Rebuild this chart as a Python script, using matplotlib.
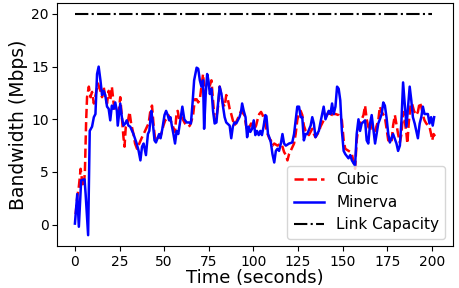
import matplotlib
matplotlib.use("Agg")
import matplotlib.pyplot as plt

# -------------------------------------------------------------------------------------------------
# Data (time in seconds, bandwidth in Mbps)
# -------------------------------------------------------------------------------------------------
t_minerva = [0.0, 1.3, 2.2, 3.5, 5.4, 6.0, 7.4, 8.3, 9.6, 10.6, 11.5, 12.4, 13.3, 14.3, 15.2, 16.1,
             17.0, 18.0, 18.9, 19.8, 20.7, 21.7, 22.6, 23.5, 24.0, 25.4, 26.3, 27.2, 28.2, 29.0, 30.0,
             31.0, 32.8, 34.6, 35.7, 36.7, 37.6, 38.5, 39.8, 40.9, 41.7, 42.8, 43.5, 44.6, 45.4, 46.5,
             47.2, 48.0, 49.0, 50.2, 51.1, 52.0, 52.8, 53.5, 54.3, 55.2, 56.1, 57.0, 57.9, 58.9, 60.2,
             61.3, 62.6, 63.9, 65.0, 65.9, 66.8, 68.2, 69.1, 70.0, 70.9, 71.8, 72.4, 73.3, 74.1, 74.8,
             75.6, 76.5, 77.4, 78.3, 79.3, 80.2, 81.1, 82.1, 83.0, 83.9, 84.8, 86.7, 87.6, 88.5, 89.4,
             90.4, 91.3, 92.2, 93.1, 93.7, 94.6, 95.6, 96.5, 97.4, 98.3, 99.3, 100.2, 101.1, 102.0,
             103.0, 103.9, 104.8, 105.7, 106.7, 107.3, 108.2, 108.9, 109.8, 110.7, 111.7, 112.6, 113.5,
             114.4, 115.4, 116.3, 117.2, 118.2, 120.0, 121.8, 122.8, 123.7, 124.6, 125.6, 126.5, 127.4,
             128.3, 129.3, 130.2, 132.1, 133.0, 133.9, 134.8, 135.7, 136.7, 137.6, 139.4, 140.4, 141.3,
             142.2, 143.2, 144.1, 145.0, 146.0, 146.9, 147.8, 148.7, 149.6, 150.6, 151.5, 153.3, 154.3,
             155.2, 157.0, 157.9, 158.9, 159.8, 160.7, 162.6, 163.5, 164.4, 165.4, 166.3, 167.2, 168.2,
             170.0, 170.9, 171.9, 172.8, 173.7, 174.6, 175.6, 176.5, 177.4, 178.3, 180.2, 181.1, 182.1,
             183.0, 183.9, 184.8, 185.8, 186.7, 187.6, 188.5, 189.4, 190.4, 192.2, 193.2, 194.1, 195.0,
             195.9, 197.8, 198.7, 199.6, 200.5, 201.3]
bw_minerva = [0.1, 2.9, -0.2, 4.2, 4.3, 2.9, -1.0, 8.9, 9.3, 10.2, 10.5, 14.3, 15.0, 13.7, 12.3, 12.7,
              12.3, 11.2, 11.0, 9.9, 11.3, 11.0, 11.6, 10.8, 9.4, 11.5, 10.2, 9.4, 9.6, 9.9, 9.4,
              9.3, 8.6, 7.7, 7.0, 6.1, 7.4, 7.7, 6.6, 8.6, 8.9, 10.8, 9.9, 8.0, 7.8, 8.3,
              8.6, 8.2, 9.1, 10.4, 10.8, 10.4, 9.9, 10.2, 9.4, 8.6, 7.7, 8.9, 8.6, 9.7, 11.2,
              10.0, 9.7, 9.7, 9.6, 11.5, 13.7, 14.9, 14.8, 13.7, 13.1, 13.7, 9.1, 12.4, 14.3, 13.7,
              12.4, 12.9, 10.8, 9.6, 9.7, 11.5, 13.1, 12.4, 11.2, 10.2, 9.7, 9.4, 8.2, 9.3, 9.7,
              9.6, 9.9, 10.2, 10.7, 11.5, 10.8, 10.2, 8.3, 9.3, 8.8, 9.1, 9.9, 8.5, 8.9,
              8.5, 8.9, 8.5, 9.3, 10.4, 10.3, 8.6, 8.3, 7.8, 6.7, 5.9, 7.0, 7.2,
              7.0, 7.7, 8.6, 7.7, 7.5, 7.7, 7.8, 8.6, 9.9, 11.2, 11.2, 10.2, 10.2,
              8.0, 8.6, 8.6, 9.4, 10.2, 9.6, 8.3, 8.6, 8.9, 9.7, 11.2, 10.0, 10.4,
              10.8, 10.5, 11.5, 10.5, 11.2, 13.1, 12.9, 11.8, 8.9, 7.0, 6.7, 6.3, 6.6,
              6.1, 5.6, 8.6, 10.0, 8.9, 9.6, 9.9, 8.0, 7.7, 9.6, 10.4, 9.1, 7.7,
              9.6, 10.0, 10.5, 11.6, 11.3, 10.2, 8.6, 7.8, 8.2, 8.6, 7.7, 7.0, 7.5,
              9.9, 13.5, 11.5, 9.3, 11.2, 13.1, 11.8, 10.2, 9.6, 8.2, 9.6, 10.2, 11.2,
              10.5, 10.5, 9.6, 10.2, 9.4, 10.2]

t_cubic = [0.4, 1.3, 2.2, 3.2, 4.0, 5.0, 5.6, 6.3, 6.8, 7.8, 8.7, 9.6, 10.6, 12.9, 14.3, 15.2,
           16.1, 17.0, 18.0, 18.9, 19.8, 20.7, 21.7, 22.6, 24.4, 25.4, 26.3, 27.2, 27.8, 28.5, 29.6,
           30.6, 31.5, 32.8, 33.7, 34.8, 37.6, 38.5, 40.4, 41.3, 42.2, 43.2, 44.1, 45.0, 45.9, 47.8,
           48.7, 49.6, 50.6, 51.5, 52.4, 54.3, 56.1, 57.0, 57.6, 58.5, 59.8, 61.7, 63.5, 64.4, 65.4,
           66.3, 67.2, 68.2, 69.1, 70.0, 70.9, 71.8, 72.8, 73.7, 75.6, 76.5, 77.4, 78.3, 79.3, 80.2,
           81.1, 83.0, 83.9, 84.8, 85.7, 86.7, 87.6, 88.5, 89.4, 92.2, 93.1, 95.0, 95.9, 96.8, 98.7,
           100.6, 101.5, 102.4, 103.3, 104.3, 105.2, 106.1, 107.0, 108.0, 108.9, 109.8, 110.7, 111.7,
           113.5, 115.4, 116.3, 117.2, 118.2, 119.1, 120.0, 120.9, 122.8, 123.7, 124.6, 125.6, 126.5,
           127.4, 128.3, 129.3, 131.1, 133.0, 133.9, 134.8, 136.7, 137.6, 139.4, 140.4, 142.2, 143.2,
           144.1, 146.0, 147.8, 148.7, 149.6, 150.6, 151.5, 153.3, 154.3, 155.2, 157.0, 157.9, 158.9,
           159.8, 161.7, 162.6, 163.5, 164.4, 165.4, 166.3, 168.2, 170.0, 170.9, 171.9, 173.7, 175.6,
           177.4, 178.3, 179.3, 181.1, 182.1, 183.0, 183.9, 184.8, 185.8, 186.3, 187.1, 188.2, 188.9,
           190.0, 191.3, 192.2, 193.2, 194.1, 195.0, 195.9, 196.9, 198.7, 199.6, 200.2, 201.0, 201.8]
bw_cubic = [1.0, 2.6, 3.6, 5.3, 4.2, 3.6, 5.1, 9.9, 12.1, 13.1, 12.1, 12.6, 11.5, 13.4, 12.7, 12.1,
            13.1, 12.1, 11.5, 12.7, 11.8, 13.1, 11.5, 10.8, 10.5, 12.1, 10.2, 8.3, 7.4, 9.3, 9.7,
            10.7, 9.6, 8.6, 7.7, 7.2, 8.3, 8.6, 9.3, 9.6, 10.7, 11.3, 9.4, 8.0, 8.2, 8.3,
            8.8, 9.4, 9.9, 10.0, 10.4, 9.6, 8.8, 10.7, 10.8, 9.9, 10.2, 9.6, 9.3, 9.4, 9.9,
            10.5, 11.9, 11.9, 11.6, 11.9, 13.1, 14.3, 12.4, 13.1, 13.2, 13.7, 11.8, 9.9, 10.2, 11.2,
            13.1, 11.5, 11.2, 12.3, 11.9, 11.0, 10.5, 9.9, 9.4, 10.4, 10.8, 10.4, 9.4, 8.9, 9.6,
            9.1, 9.4, 10.0, 10.5, 10.7, 10.4, 9.9, 9.3, 8.6, 8.2, 8.0, 7.5, 7.7,
            7.5, 7.7, 7.4, 6.9, 6.6, 6.1, 6.7, 7.0, 7.7, 8.6, 9.9, 10.7, 10.8,
            10.4, 9.4, 8.9, 8.5, 9.1, 8.6, 8.3, 8.8, 9.3, 9.9, 10.2, 10.7, 10.2,
            10.5, 10.5, 10.4, 10.2, 9.9, 8.0, 7.2, 7.0, 6.9, 6.7, 5.3, 8.0, 9.3,
            9.6, 10.4, 11.3, 10.0, 9.3, 8.9, 9.6, 8.9, 9.9, 11.2, 10.7, 10.2, 8.0,
            7.8, 9.4, 10.4, 8.6, 7.8, 8.6, 10.7, 9.9, 8.6, 7.7, 9.7, 11.5, 11.5,
            10.8, 10.4, 10.7, 11.6, 11.2, 10.4, 9.9, 9.6, 9.3, 8.6, 8.0, 8.6, 8.4]

t_link = [0, 200]
bw_link = [20, 20]

# -------------------------------------------------------------------------------------------------
# Plot
# -------------------------------------------------------------------------------------------------
fig = plt.figure(figsize=(4.59, 2.88), dpi=100)
ax = fig.add_axes([0.124, 0.145, 0.863, 0.845])

ax.plot(t_cubic, bw_cubic, 'r--', lw=1.8, label='Cubic')
ax.plot(t_minerva, bw_minerva, 'b-', lw=1.8, label='Minerva')
ax.plot(t_link, bw_link, 'k-.', lw=1.5, label='Link Capacity')

ax.set_xticks([0, 25, 50, 75, 100, 125, 150, 175, 200])
ax.set_yticks([0, 5, 10, 15, 20])
ax.tick_params(labelsize=10, pad=2.5)
ax.set_xlabel("Time (seconds)", fontsize=13, labelpad=0)
ax.set_ylabel("Bandwidth (Mbps)", fontsize=13.5, labelpad=2)
ax.legend(loc='lower right', fontsize=11)

fig.savefig("out.png", dpi=100)
